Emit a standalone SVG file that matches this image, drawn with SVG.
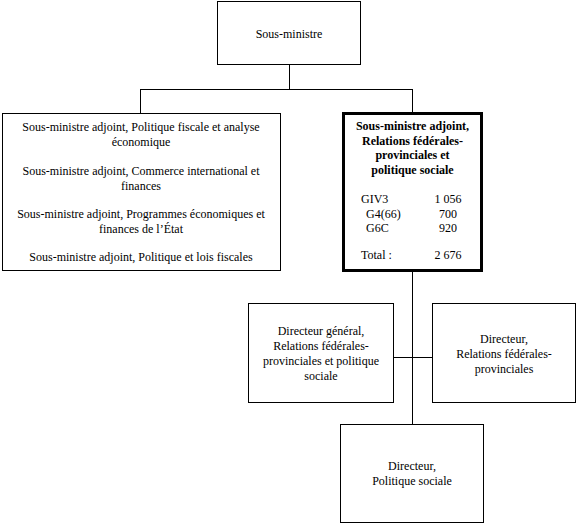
<svg xmlns="http://www.w3.org/2000/svg" width="578" height="525" viewBox="0 0 578 525">
<style>
.box{fill:#fff;stroke:#000;stroke-width:1}
.bold{fill:#fff;stroke:#000;stroke-width:3}
.ln{stroke:#000;stroke-width:1;fill:none}
text{font-family:"Liberation Serif","Times New Roman",serif;font-size:12px;fill:#000}
.c{text-anchor:middle}
.b{font-weight:bold}
</style>
<rect width="578" height="525" fill="#fff"/>
<g id="connectors">
<path class="ln" d="M289.5 65V89.5M140.5 89.5H412.5M140.5 89V113M412.5 89V112M412.5 272V424M394 357.5H432"/>
</g>
<g id="sous-ministre">
<rect class="box" x="217.5" y="1.5" width="143" height="63"/>
<text class="c" x="289" y="38">Sous-ministre</text>
</g>
<g id="adjoints">
<rect class="box" x="2.5" y="113.5" width="278" height="157"/>
<text class="c" x="141" y="131">Sous-ministre adjoint, Politique fiscale et analyse</text>
<text class="c" x="141" y="146">économique</text>
<text class="c" x="141" y="175">Sous-ministre adjoint, Commerce international et</text>
<text class="c" x="141" y="190">finances</text>
<text class="c" x="141" y="218">Sous-ministre adjoint, Programmes économiques et</text>
<text class="c" x="141" y="233">finances de l’État</text>
<text class="c" x="141" y="261">Sous-ministre adjoint, Politique et lois fiscales</text>
</g>
<g id="sma-relations">
<rect class="bold" x="343.5" y="113.5" width="138" height="157"/>
<text class="c b" x="412.5" y="130">Sous-ministre adjoint,</text>
<text class="c b" x="412.5" y="144.5">Relations fédérales-</text>
<text class="c b" x="412.5" y="159">provinciales et</text>
<text class="c b" x="412.5" y="173.5">politique sociale</text>
<text x="361" y="203">GIV3</text>
<text class="c" x="448" y="203">1 056</text>
<text x="366" y="217.5">G4(66)</text>
<text class="c" x="448" y="217.5">700</text>
<text x="366" y="232">G6C</text>
<text class="c" x="448" y="232">920</text>
<text x="361" y="259">Total :</text>
<text class="c" x="448" y="259">2 676</text>
</g>
<g id="dg">
<rect class="box" x="248.5" y="303.5" width="145" height="99"/>
<text class="c" x="321" y="335">Directeur général,</text>
<text class="c" x="321" y="350">Relations fédérales-</text>
<text class="c" x="321" y="365">provinciales et politique</text>
<text class="c" x="321" y="380">sociale</text>
</g>
<g id="dir-relations">
<rect class="box" x="432.5" y="303.5" width="143" height="99"/>
<text class="c" x="504" y="343">Directeur,</text>
<text class="c" x="504" y="358">Relations fédérales-</text>
<text class="c" x="504" y="373">provinciales</text>
</g>
<g id="dir-sociale">
<rect class="box" x="340.5" y="424.5" width="143" height="98"/>
<text class="c" x="412" y="470">Directeur,</text>
<text class="c" x="412" y="485">Politique sociale</text>
</g>
</svg>
